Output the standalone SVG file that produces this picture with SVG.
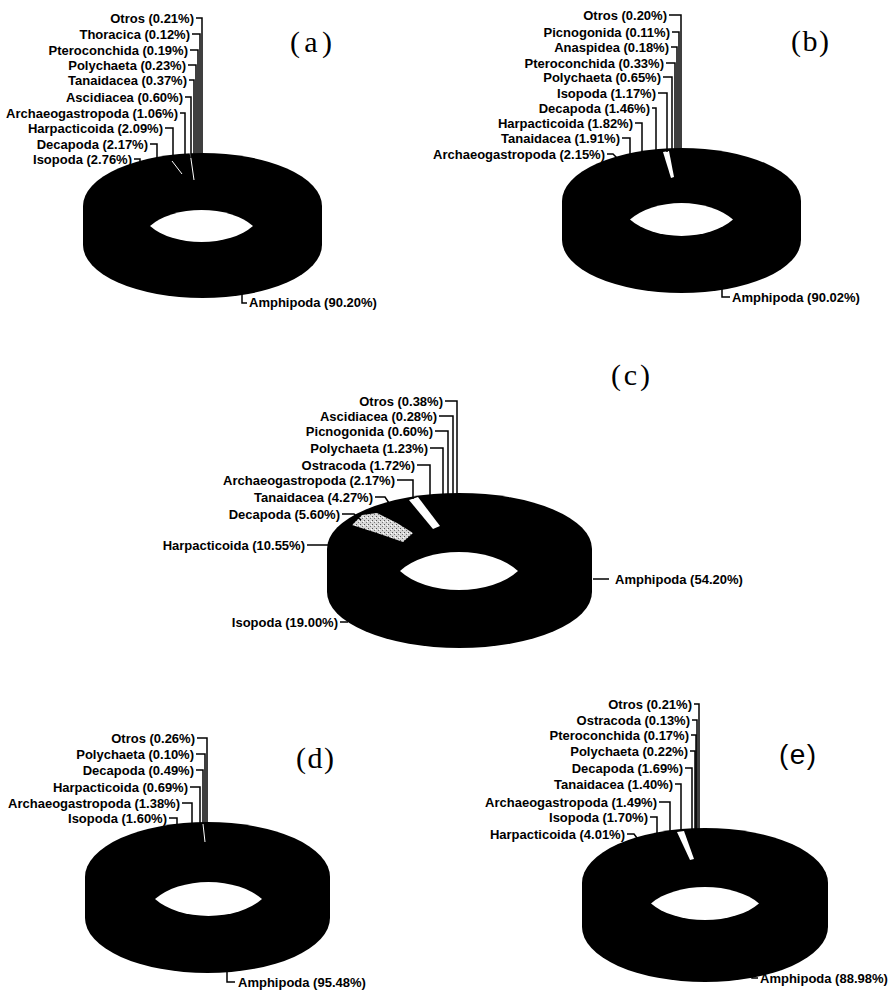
<svg xmlns="http://www.w3.org/2000/svg" width="889" height="990" viewBox="0 0 889 990">
<defs>
<style>
.lb{font-family:"Liberation Sans",Arial,sans-serif;font-weight:bold;font-size:13px;fill:#000;text-anchor:end}
.ls{font-family:"Liberation Sans",Arial,sans-serif;font-weight:bold;font-size:13px;fill:#000;text-anchor:start}
.tt{font-family:"Liberation Serif","Times New Roman",serif;font-size:30px;fill:#000}
.tts{font-family:"Liberation Sans",Arial,sans-serif;font-size:28px;fill:#000}
.dk{fill:#000}
.hole{fill:#fff}
.ld{fill:none;stroke:#000;stroke-width:1.5}
.wl{fill:none;stroke:#fff;stroke-width:1}
</style>
<pattern id="stip" width="4" height="4" patternUnits="userSpaceOnUse">
<rect width="4" height="4" fill="#d8d8d8"/>
<rect x="0" y="0" width="1" height="1" fill="#555"/>
<rect x="2" y="2" width="1" height="1" fill="#777"/>
<rect x="3" y="1" width="1" height="1" fill="#fff"/>
</pattern>
</defs>
<rect width="889" height="990" fill="#fff"/>

<g id="chart-a">
<g id="donut-a">
<ellipse class="dk" cx="202.5" cy="245" rx="119.5" ry="53"/>
<rect class="dk" x="83" y="206" width="239" height="39"/>
<ellipse class="dk" cx="202.5" cy="206" rx="119.5" ry="53"/>
<path class="hole" d="M150,226 A61.5 35.2 0 0 1 253,226 A61.5 35.2 0 0 1 150,226Z"/>
<path class="wl" d="M172,161 L182,174 M190,152 L194,180"/>
</g>
<text class="tt" x="290" y="52" textLength="42">(a)</text>
<g id="labels-a">
<text class="lb" x="194" y="22.5">Otros (0.21%)</text>
<text class="lb" x="190" y="38.5">Thoracica (0.12%)</text>
<text class="lb" x="188" y="54.5">Pteroconchida (0.19%)</text>
<text class="lb" x="186" y="69.5">Polychaeta (0.23%)</text>
<text class="lb" x="187" y="84.5">Tanaidacea (0.37%)</text>
<text class="lb" x="183" y="101.5">Ascidiacea (0.60%)</text>
<text class="lb" x="178" y="117.5">Archaeogastropoda (1.06%)</text>
<text class="lb" x="163" y="132.5">Harpacticoida (2.09%)</text>
<text class="lb" x="148" y="148.5">Decapoda (2.17%)</text>
<text class="lb" x="132" y="163.5">Isopoda (2.76%)</text>
<text class="ls" x="249" y="307">Amphipoda (90.20%)</text>
</g>
</g>

<g id="chart-b">
<g id="donut-b">
<ellipse class="dk" cx="681.5" cy="240" rx="119.5" ry="53"/>
<rect class="dk" x="562" y="201" width="239" height="39"/>
<ellipse class="dk" cx="681.5" cy="201" rx="119.5" ry="53"/>
<path class="hole" d="M630,219.5 A61.5 36.3 0 0 1 733,219.5 A61.5 36.3 0 0 1 630,219.5Z"/>
<polygon fill="#fff" points="663,152 669,151 674,177 671,178"/>
</g>
<text class="tt" x="791" y="51" textLength="38">(b)</text>
<g id="labels-b">
<text class="lb" x="667" y="19.5">Otros (0.20%)</text>
<text class="lb" x="670" y="36.5">Picnogonida (0.11%)</text>
<text class="lb" x="669" y="51.5">Anaspidea (0.18%)</text>
<text class="lb" x="664" y="67.5">Pteroconchida (0.33%)</text>
<text class="lb" x="661" y="81.5">Polychaeta (0.65%)</text>
<text class="lb" x="656" y="97.5">Isopoda (1.17%)</text>
<text class="lb" x="650" y="112.5">Decapoda (1.46%)</text>
<text class="lb" x="633" y="127.5">Harpacticoida (1.82%)</text>
<text class="lb" x="620" y="142.5">Tanaidacea (1.91%)</text>
<text class="lb" x="605" y="158.5">Archaeogastropoda (2.15%)</text>
<text class="ls" x="732" y="301.5">Amphipoda (90.02%)</text>
</g>
</g>

<g id="chart-c">
<g id="donut-c">
<ellipse class="dk" cx="459.5" cy="592" rx="132.5" ry="56"/>
<rect class="dk" x="327" y="549" width="265" height="43"/>
<ellipse class="dk" cx="459.5" cy="549" rx="132.5" ry="56"/>
<path class="hole" d="M400,571 A70.4 41.8 0 0 1 518,571 A70.4 41.8 0 0 1 400,571Z"/>
<polygon fill="#fff" points="409,500 418,497 440,526 433,529"/>
<polygon fill="url(#stip)" points="352,525 362,515 377,513 397,523 413,533 403,542 377,533"/>
</g>
<text class="tt" x="611" y="385" textLength="39">(c)</text>
<g id="labels-c">
<text class="lb" x="443" y="405.5">Otros (0.38%)</text>
<text class="lb" x="437" y="420.5">Ascidiacea (0.28%)</text>
<text class="lb" x="433" y="435.5">Picnogonida (0.60%)</text>
<text class="lb" x="428" y="452.5">Polychaeta (1.23%)</text>
<text class="lb" x="415" y="469.5">Ostracoda (1.72%)</text>
<text class="lb" x="395" y="484.5">Archaeogastropoda (2.17%)</text>
<text class="lb" x="373" y="501.5">Tanaidacea (4.27%)</text>
<text class="lb" x="340" y="518.5">Decapoda (5.60%)</text>
<text class="lb" x="305" y="549.5">Harpacticoida (10.55%)</text>
<text class="lb" x="338" y="626.5">Isopoda (19.00%)</text>
<text class="ls" x="615" y="583.5">Amphipoda (54.20%)</text>
</g>
</g>

<g id="chart-d">
<g id="donut-d">
<ellipse class="dk" cx="207.5" cy="918" rx="122.5" ry="55"/>
<rect class="dk" x="85" y="877" width="245" height="41"/>
<ellipse class="dk" cx="207.5" cy="877" rx="122.5" ry="55"/>
<path class="hole" d="M155,899 A63.8 37.4 0 0 1 262,899 A63.8 37.4 0 0 1 155,899Z"/>
<path class="wl" d="M203,824 L205,842"/>
</g>
<text class="tt" x="296" y="768" textLength="38">(d)</text>
<g id="labels-d">
<text class="lb" x="195" y="742.5">Otros (0.26%)</text>
<text class="lb" x="194" y="758.5">Polychaeta (0.10%)</text>
<text class="lb" x="194" y="774.5">Decapoda (0.49%)</text>
<text class="lb" x="188" y="791.5">Harpacticoida (0.69%)</text>
<text class="lb" x="180" y="807.5">Archaeogastropoda (1.38%)</text>
<text class="lb" x="167" y="822.5">Isopoda (1.60%)</text>
<text class="ls" x="238" y="986.5">Amphipoda (95.48%)</text>
</g>
</g>

<g id="chart-e">
<g id="donut-e">
<ellipse class="dk" cx="705" cy="927" rx="123" ry="55"/>
<rect class="dk" x="582" y="883" width="246" height="44"/>
<ellipse class="dk" cx="705" cy="883" rx="123" ry="55"/>
<path class="hole" d="M651,903.5 A64.4 36.3 0 0 1 759,903.5 A64.4 36.3 0 0 1 651,903.5Z"/>
<polygon fill="#fff" points="677,832 684,831 694,859 690,860"/>
</g>
<text class="tts" x="779" y="764" textLength="37">(e)</text>
<g id="labels-e">
<text class="lb" x="692" y="708.5">Otros (0.21%)</text>
<text class="lb" x="690" y="724.5">Ostracoda (0.13%)</text>
<text class="lb" x="689" y="739.5">Pteroconchida (0.17%)</text>
<text class="lb" x="688" y="755.5">Polychaeta (0.22%)</text>
<text class="lb" x="683" y="772.5">Decapoda (1.69%)</text>
<text class="lb" x="673" y="788.5">Tanaidacea (1.40%)</text>
<text class="lb" x="657" y="806.5">Archaeogastropoda (1.49%)</text>
<text class="lb" x="648" y="821.5">Isopoda (1.70%)</text>
<text class="lb" x="625" y="838.5">Harpacticoida (4.01%)</text>
<text class="ls" x="760" y="982.5">Amphipoda (88.98%)</text>
</g>
</g>

<g id="connectors" class="ld">
<path d="M196,18 H202 V157"/>
<path d="M192,34 H200 V157"/>
<path d="M190,50 H198 V157"/>
<path d="M188,65 H196 V157"/>
<path d="M189,80 H194 V157"/>
<path d="M185,97 H191 V158"/>
<path d="M180,113 H185 V158"/>
<path d="M165,128 H173 V159"/>
<path d="M150,144 H157 V160"/>
<path d="M134,159 H140 V164"/>
<path d="M242,293 V303 H247"/>

<path d="M669,15 H681 V152"/>
<path d="M672,32 H679 V152"/>
<path d="M671,47 H677 V152"/>
<path d="M666,63 H675 V152"/>
<path d="M663,77 H672 V152"/>
<path d="M658,93 H667 V152"/>
<path d="M652,108 H656 V153"/>
<path d="M635,123 H642 V154"/>
<path d="M622,138 H630 V155"/>
<path d="M607,154 H613 L617,158"/>
<path d="M722,288 V297 H730"/>

<path d="M445,401 H457 V496"/>
<path d="M439,416 H453 V496"/>
<path d="M435,431 H448 V496"/>
<path d="M430,448 H443 V497"/>
<path d="M417,465 H430 V497"/>
<path d="M397,480 H413 V499"/>
<path d="M375,497 H385 L389,503"/>
<path d="M342,514 H354 L361,520"/>
<path d="M307,545 H328"/>
<path d="M340,622 H348"/>
<path d="M593,579 H609"/>

<path d="M197,738 H207 V824"/>
<path d="M196,754 H205 V824"/>
<path d="M196,770 H203 V824"/>
<path d="M190,787 H200 V824"/>
<path d="M182,803 H192 V825"/>
<path d="M169,818 H177 V826"/>
<path d="M227,971 V982 H235"/>

<path d="M694,704 H699 V830"/>
<path d="M692,720 H697 V830"/>
<path d="M691,735 H696 V830"/>
<path d="M690,751 H695 V830"/>
<path d="M685,768 H692 V830"/>
<path d="M675,784 H681 V831"/>
<path d="M659,802 H670 V832"/>
<path d="M650,817 H657 V834"/>
<path d="M627,834 H634 L637,838"/>
<path d="M752,968 V978 H758"/>
</g>
</svg>
